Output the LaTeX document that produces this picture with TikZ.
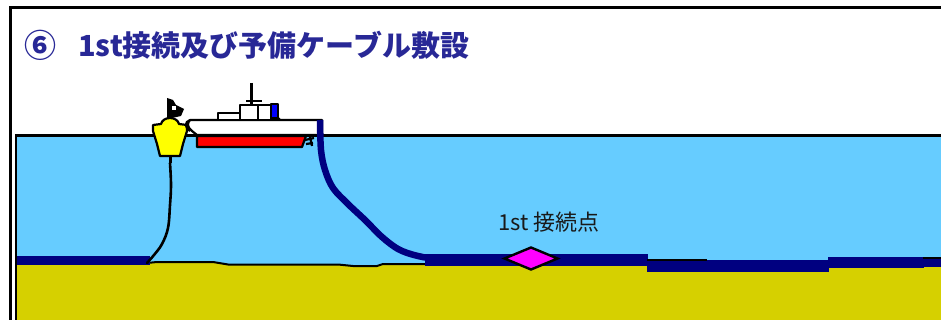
\documentclass[tikz,border=0pt]{standalone}
\usepackage{fontspec}
\newfontfamily\jpfont{Noto Sans CJK JP}
\usetikzlibrary{shapes.geometric}
\definecolor{sea}{RGB}{102,204,255}
\definecolor{seabed}{RGB}{214,208,0}
\definecolor{cablenavy}{RGB}{0,0,128}
\definecolor{titleblue}{RGB}{40,40,150}
\definecolor{buoyyellow}{RGB}{255,255,0}
\definecolor{hullred}{RGB}{255,0,0}
\definecolor{jointpink}{RGB}{255,0,255}
\definecolor{labelgray}{RGB}{25,25,25}
\begin{document}
\begin{tikzpicture}[x=1pt,y=-1pt,
  frame/.style={draw=black,line width=3pt},
  scene/.style={draw=black,line width=2.8pt},
  cable/.style={draw=cablenavy,line width=6.5pt,line join=round},
  rope/.style={draw=black,line width=2.6pt,line cap=round,line join=round},
  bedline/.style={draw=black,line width=2pt,line join=round},
  shipline/.style={draw=black,line width=2.2pt,line join=round},
  joint/.style={diamond,draw=black,line width=2.4pt,fill=jointpink,
    minimum width=54pt,minimum height=23pt,inner sep=0pt},
  title/.style={text=titleblue,font=\jpfont\bfseries\fontsize{29}{32}\selectfont,
    inner sep=0pt},
  label/.style={text=labelgray,font=\jpfont\fontsize{22}{25}\selectfont,inner sep=0pt}
  ]
\useasboundingbox (0,0) rectangle (941,320);
\clip (0,0) rectangle (941,320);

% water body
\fill[sea] (16,135) rectangle (950,330);

% sea floor
\fill[seabed] (16,264) -- (147,264) -- (157,262) -- (213,262) -- (228,264.5)
  -- (338,264.5) -- (353,266) -- (377,266) -- (383,264) -- (430,264)
  -- (647,265) -- (647,272) -- (828,272) -- (828,268) -- (923,268)
  -- (923,267) -- (950,267) -- (950,330) -- (16,330) -- cycle;
\draw[bedline] (147,263) -- (157,262) -- (213,262) -- (228,264.5)
  -- (338,264.5) -- (353,266) -- (377,266) -- (383,264) -- (430,264);

% laid cable resting on the sea floor
\fill[cablenavy] (16,255.5) rectangle (150,264.5);
\fill[cablenavy] (425,254) rectangle (648,265.5);
\fill[cablenavy] (647,260) rectangle (829,272);
\fill[cablenavy] (828,257) rectangle (924,268);
\fill[cablenavy] (923,257) rectangle (950,267);
\draw[bedline] (647,259.5) -- (707,259.5);
\draw[bedline] (923,257.5) -- (950,257.5);

% frames
\draw[frame] (10,330) -- (10,8) -- (950,8);
\draw[scene] (16,330) -- (16,135.5) -- (950,135.5);

% title
\node[title,anchor=center,font=\jpfont\bfseries\fontsize{32}{34}\selectfont] (num) at (40,45) {⑥};
\node[title,anchor=west] (ttl) at (78,45) {1st接続及び予備ケーブル敷設};

% buoy with its flag
\coordinate (buoybase) at (170,163);
\fill[black] (167,98) -- (173,100) -- (176,105) -- (184,109) -- (181,116)
  -- (172,118) -- (167,118) -- cycle;
\fill[white] (172,106) rectangle (176,110);
\filldraw[fill=buoyyellow,shipline] (153,125) -- (161,124)
  .. controls (163,116) and (177,116) .. (179,124) -- (187,125)
  -- (187,131) -- (183,144) -- (180,156) -- (160,156)
  -- (157,144) -- (153,131) -- cycle;
\draw[black,line width=3pt] (170,156) -- (buoybase);

% mooring rope from buoy down to the cable end
\coordinate (ropeend) at (147,263);
\draw[rope] plot[smooth,tension=0.6] coordinates {(buoybase) (171,185) (170,205)
  (168,228) (162,244) (154,255) (ropeend)};

% ship hull
\filldraw[fill=white,shipline] (190,120) -- (322,120) -- (322,135) -- (197,135)
  -- (192,131) .. controls (187,127) and (187,123) .. (190,120) -- cycle;
\filldraw[fill=hullred,shipline] (197,136) -- (306,136) -- (302,147) -- (197,147) -- cycle;
\draw[shipline] (190,120) .. controls (184,122) and (185,128) .. (190,131);
\draw[black,line width=2.2pt] (305,140) -- (314,138) (310,137) -- (312,146) (306,144) -- (313,143);

% superstructure
\filldraw[fill=white,shipline] (218,113) rectangle (240,120);
\filldraw[fill=white,shipline] (240,105) rectangle (271,120);
\draw[shipline] (258,105) -- (258,120);
\draw[black,line width=3pt] (251,83) -- (251,105);
\draw[black,line width=2.2pt] (246,101) -- (262,101);
\filldraw[fill=blue,shipline] (271,104) rectangle (278,118);
\draw[shipline] (278,118) -- (280,120);

% cable paid out from the stern down to the joint
\coordinate (stern) at (320,120);
\draw[cable] plot[smooth,tension=0.55] coordinates {(stern) (321,150) (325,170)
  (333,188) (348,204) (365,220) (382,237) (398,249) (414,255) (432,258.5) (450,259)};

% first joint
\node[joint] (jt) at (531,258.5) {};
\node[label,anchor=center] (jtlabel) at (549,222) {1st 接続点};
\end{tikzpicture}
\end{document}
